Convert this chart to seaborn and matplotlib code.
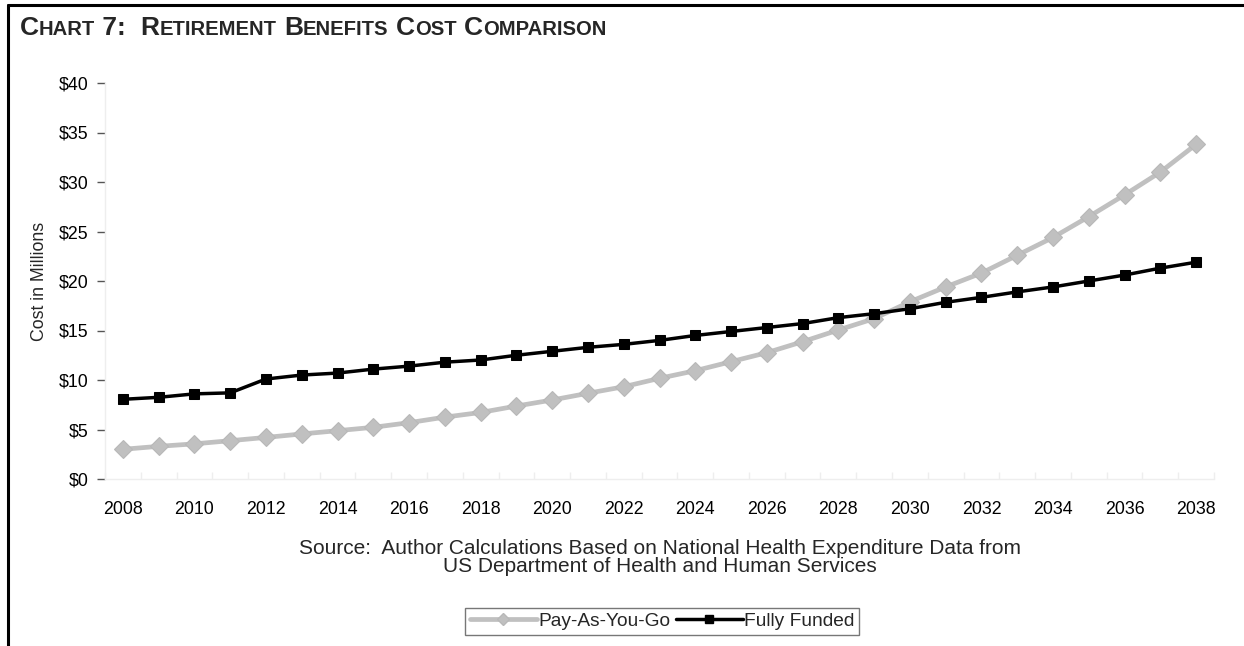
import matplotlib
matplotlib.use("Agg")
import matplotlib.pyplot as plt
from matplotlib.lines import Line2D
import numpy as np
import pandas as pd
import seaborn as sns

# Projected annual retirement benefit cost (millions of dollars)
years = list(range(2008, 2039))
pay_as_you_go = [3.0, 3.3, 3.55, 3.87, 4.2, 4.55, 4.88, 5.22, 5.69, 6.25, 6.72,
                 7.37, 7.98, 8.66, 9.32, 10.17, 10.94, 11.85, 12.76, 13.87, 15.05,
                 16.2, 17.9, 19.4, 20.8, 22.6, 24.4, 26.5, 28.7, 31.0, 33.8]
fully_funded = [8.05, 8.25, 8.6, 8.7, 10.1, 10.5, 10.7, 11.1, 11.4, 11.8, 12.02,
                12.5, 12.9, 13.3, 13.6, 14.0, 14.5, 14.9, 15.3, 15.7, 16.3,
                16.7, 17.2, 17.85, 18.35, 18.9, 19.4, 20.0, 20.6, 21.3, 21.9]
series_names = ["Pay-As-You-Go", "Fully Funded"]
y_ticks = [0, 5, 10, 15, 20, 25, 30, 35, 40]
y_tick_labels = ["$0", "$5", "$10", "$15", "$20", "$25", "$30", "$35", "$40"]
x_tick_years = list(range(2008, 2039, 2))

sns.set_theme(style="white")
plt.rcParams["font.family"] = ["Liberation Sans", "DejaVu Sans"]

df = pd.DataFrame({
    "Year": years * 2,
    "Cost": pay_as_you_go + fully_funded,
    "Plan": [series_names[0]] * len(years) + [series_names[1]] * len(years),
})

W, H = 1244, 646
fig = plt.figure(figsize=(W / 100, H / 100), dpi=100)
ax = fig.add_axes([105 / W, 1 - 479 / H, (1214 - 105) / W, (479 - 83) / H])

gray = "#c0c0c0"
palette = {series_names[0]: gray, series_names[1]: "#000000"}
sns.lineplot(data=df, x="Year", y="Cost", hue="Plan", style="Plan",
             palette=palette, markers={series_names[0]: "D", series_names[1]: "s"},
             dashes=False, ax=ax, legend=False)

# Per-series styling
for line, name in zip(ax.get_lines(), series_names):
    if name == series_names[0]:
        line.set_linewidth(3.4)
        line.set_markersize(9)
        line.set_markeredgecolor("#b8b8b8")
        line.set_markeredgewidth(0.8)
        line.set_markerfacecolor(gray)
        line.set_zorder(2)
    else:
        line.set_linewidth(2.5)
        line.set_markersize(7.5)
        line.set_markeredgecolor("#000000")
        line.set_markerfacecolor("#000000")
        line.set_zorder(3)

ax.set_xlim(2007.5, 2038.5)
ax.set_ylim(0, 40)
ax.set_yticks(y_ticks)
ax.set_yticklabels(y_tick_labels)
ax.set_xticks(x_tick_years)
ax.set_xticklabels([str(y) for y in x_tick_years])
ax.set_xticks(np.arange(2007.5, 2039.0, 1.0), minor=True)
ax.tick_params(axis="x", which="major", bottom=True, length=0, pad=16,
               labelsize=12.8, colors="#000000")
ax.tick_params(axis="x", which="minor", bottom=True, length=5, width=1,
               color="#eeeeee", direction="in")
ax.tick_params(axis="y", which="major", left=True, length=6, width=1, color="#555555",
               pad=6, labelsize=12.8, labelcolor="#000000", direction="out")
ax.set_xlabel("")
ax.set_ylabel("Cost in Millions", fontsize=12.8)
ax.yaxis.set_label_coords(-(105 - 48) / (1214 - 105), 0.5)

for side in ["top", "right"]:
    ax.spines[side].set_visible(False)
for side in ["left", "bottom"]:
    ax.spines[side].set_color("#eeeeee")
    ax.spines[side].set_linewidth(1)

# Source note
fig.text(660 / W, 1 - 549 / H,
         "Source:  Author Calculations Based on National Health Expenditure Data from",
         ha="center", va="center", fontsize=15)
fig.text(660 / W, 1 - 567 / H, "US Department of Health and Human Services",
         ha="center", va="center", fontsize=15)

# Legend
handles = [
    Line2D([], [], color=gray, lw=3.4, marker="D", markersize=6,
           markerfacecolor=gray, markeredgecolor="#b8b8b8"),
    Line2D([], [], color="#000000", lw=2.5, marker="s", markersize=6),
]
leg = fig.legend(handles, series_names, loc="center", ncol=2,
                 bbox_to_anchor=(662 / W, 1 - 621 / H), frameon=True,
                 fancybox=False, fontsize=13.8, handlelength=3.5, handletextpad=0.05,
                 columnspacing=0.3, borderpad=0.25, borderaxespad=0)
leg.get_frame().set_edgecolor("#555555")
leg.get_frame().set_linewidth(1)

# Frame lines along the top and left edges of the page
fig.add_artist(Line2D([8 / W, 8 / W], [0, 1 - 5 / H], color="black", lw=2.2,
                      transform=fig.transFigure))
fig.add_artist(Line2D([8 / W, 1], [1 - 5 / H, 1 - 5 / H], color="black", lw=2.2,
                      transform=fig.transFigure))

# Small-caps title: large initials followed by smaller capitals, laid out piece by piece
title_parts = [("C", 19), ("HART", 14.6), (" 7:  ", 19), ("R", 19), ("ETIREMENT", 14.6),
               (" ", 19), ("B", 19), ("ENEFITS", 14.6), (" ", 19), ("C", 19),
               ("OST", 14.6), (" ", 19), ("C", 19), ("OMPARISON", 14.6)]
fig.canvas.draw()
renderer = fig.canvas.get_renderer()
x_px = 20.0
for txt, size in title_parts:
    t = fig.text(x_px / W, 1 - 35 / H, txt, fontsize=size, fontweight="bold",
                 ha="left", va="baseline")
    x_px += t.get_window_extent(renderer=renderer).width

fig.savefig("out.png", dpi=100, facecolor="white")
